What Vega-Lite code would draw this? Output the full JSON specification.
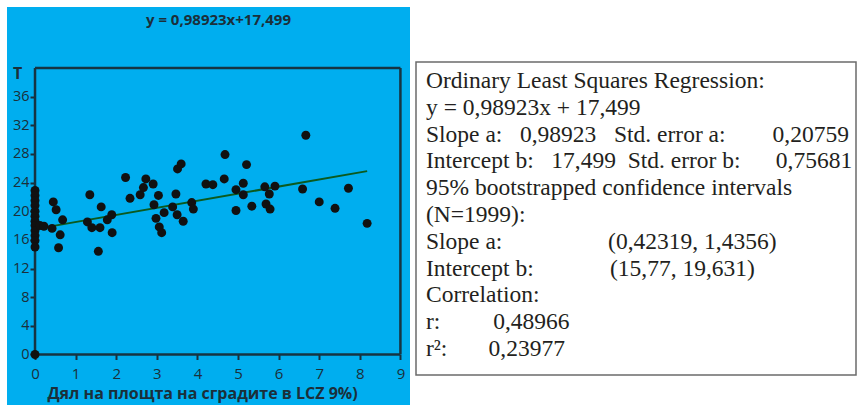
{
  "$schema": "https://vega.github.io/schema/vega-lite/v6.json",
  "background": "white",
  "padding": {"left": 7, "top": 7, "right": 0, "bottom": 0},
  "spacing": 5,
  "datasets": {
    "points": [
      {"x": 0, "T": 0},
      {"x": 0, "T": 22.9}, {"x": 0, "T": 22.2}, {"x": 0, "T": 21.5}, {"x": 0, "T": 20.8}, {"x": 0, "T": 20.0}, {"x": 0, "T": 19.3},
      {"x": 0, "T": 18.6}, {"x": 0, "T": 18.0}, {"x": 0, "T": 17.3}, {"x": 0, "T": 16.6}, {"x": 0, "T": 15.9}, {"x": 0, "T": 15.0},
      {"x": 0.12, "T": 18.0}, {"x": 0.22, "T": 17.9}, {"x": 0.42, "T": 17.6}, {"x": 0.45, "T": 21.3}, {"x": 0.52, "T": 20.2},
      {"x": 0.62, "T": 16.7}, {"x": 0.58, "T": 14.9}, {"x": 0.68, "T": 18.8},
      {"x": 1.29, "T": 18.5}, {"x": 1.35, "T": 22.3}, {"x": 1.40, "T": 17.7}, {"x": 1.60, "T": 17.7}, {"x": 1.56, "T": 14.4},
      {"x": 1.63, "T": 20.6}, {"x": 1.78, "T": 18.8}, {"x": 1.89, "T": 19.5}, {"x": 1.90, "T": 17.0},
      {"x": 2.23, "T": 24.7}, {"x": 2.34, "T": 21.8}, {"x": 2.59, "T": 22.3}, {"x": 2.67, "T": 23.3}, {"x": 2.73, "T": 24.5},
      {"x": 2.91, "T": 23.8}, {"x": 2.93, "T": 20.9}, {"x": 2.98, "T": 19.0}, {"x": 3.04, "T": 22.2}, {"x": 3.06, "T": 17.8},
      {"x": 3.12, "T": 17.0}, {"x": 3.18, "T": 19.8},
      {"x": 3.39, "T": 20.6}, {"x": 3.47, "T": 22.4}, {"x": 3.50, "T": 19.5}, {"x": 3.51, "T": 25.9}, {"x": 3.60, "T": 26.6},
      {"x": 3.65, "T": 18.6}, {"x": 3.86, "T": 21.2}, {"x": 3.90, "T": 20.3},
      {"x": 4.21, "T": 23.8}, {"x": 4.38, "T": 23.7}, {"x": 4.66, "T": 24.5}, {"x": 4.68, "T": 27.9}, {"x": 4.95, "T": 23.0},
      {"x": 4.95, "T": 20.1}, {"x": 5.13, "T": 23.9}, {"x": 5.13, "T": 22.3}, {"x": 5.21, "T": 26.5}, {"x": 5.34, "T": 20.7},
      {"x": 5.66, "T": 23.4}, {"x": 5.69, "T": 21.0}, {"x": 5.77, "T": 22.4}, {"x": 5.79, "T": 20.3}, {"x": 5.91, "T": 23.5},
      {"x": 6.59, "T": 23.1}, {"x": 6.67, "T": 30.6}, {"x": 7.00, "T": 21.3}, {"x": 7.39, "T": 20.4}, {"x": 7.72, "T": 23.2},
      {"x": 8.18, "T": 18.3}
    ],
    "fit": [
      {"x": 0, "T": 17.499},
      {"x": 8.18, "T": 25.591}
    ],
    "frame": [
      {"x": 0, "T": 0, "x2": 0, "T2": 40},
      {"x": 0, "T": 0, "x2": 9, "T2": 0},
      {"x": 0, "T": 40, "x2": 9, "T2": 40},
      {"x": 9, "T": 0, "x2": 9, "T2": 40}
    ],
    "stats": [
      {"line": 1, "text": "Ordinary Least Squares Regression:"},
      {"line": 2, "text": "y = 0,98923x + 17,499"},
      {"line": 3, "text": "Slope a:\u00a0\u00a0\u00a00,98923\u00a0\u00a0\u00a0Std. error a:\u00a0\u00a0\u00a0\u00a0\u00a0\u00a0\u00a0\u00a00,20759"},
      {"line": 4, "text": "Intercept b:\u00a0\u00a0\u00a017,499\u00a0\u00a0Std. error b:\u00a0\u00a0\u00a0\u00a0\u00a0\u00a00,75681"},
      {"line": 5, "text": "95% bootstrapped confidence intervals"},
      {"line": 6, "text": "(N=1999):"},
      {"line": 7, "text": "Slope a:\u00a0\u00a0\u00a0\u00a0\u00a0\u00a0\u00a0\u00a0\u00a0\u00a0\u00a0\u00a0\u00a0\u00a0\u00a0\u00a0\u00a0\u00a0(0,42319, 1,4356)"},
      {"line": 8, "text": "Intercept b:\u00a0\u00a0\u00a0\u00a0\u00a0\u00a0\u00a0\u00a0\u00a0\u00a0\u00a0\u00a0\u00a0(15,77, 19,631)"},
      {"line": 9, "text": "Correlation:"},
      {"line": 10, "text": "r:\u00a0\u00a0\u00a0\u00a0\u00a0\u00a0\u00a0\u00a0\u00a00,48966"},
      {"line": 11, "text": "r\u00b2:\u00a0\u00a0\u00a0\u00a0\u00a0\u00a0\u00a00,23977"}
    ]
  },
  "hconcat": [
    {
      "width": 403,
      "height": 398,
      "view": {"fill": "#00aeef", "stroke": null},
      "title": {
        "text": "y = 0,98923x+17,499",
        "offset": -21,
        "dx": 10,
        "fontSize": 15,
        "fontWeight": "bold",
        "font": "Open Sans",
        "color": "#1b2f3a",
        "anchor": "middle"
      },
      "encoding": {
        "x": {
          "field": "x",
          "type": "quantitative",
          "scale": {"domain": [-0.69, 9.236], "nice": false, "zero": false},
          "axis": {
            "values": [0, 1, 2, 3, 4, 5, 6, 7, 8, 9],
            "offset": -50.5,
            "domain": false,
            "grid": false,
            "tickSize": 5,
            "tickWidth": 2,
            "tickColor": "#1b2f3a",
            "labelFont": "Open Sans",
            "labelFontSize": 15,
            "labelColor": "#1b2f3a",
            "labelPadding": 7,
            "title": "Дял на площта на сградите в LCZ 9%)",
            "titleFont": "Open Sans",
            "titleFontSize": 16,
            "titleFontWeight": "bold",
            "titleColor": "#1b2f3a",
            "titlePadding": 4,
            "titleX": 195,
            "titleAlign": "center"
          }
        },
        "y": {
          "field": "T",
          "type": "quantitative",
          "scale": {"domain": [-7.05, 48.5], "nice": false, "zero": false},
          "axis": {
            "values": [0, 4, 8, 12, 16, 20, 24, 28, 32, 36],
            "offset": -28,
            "domain": false,
            "grid": false,
            "tickSize": 5,
            "tickWidth": 2,
            "tickColor": "#1b2f3a",
            "labelFont": "Open Sans",
            "labelFontSize": 14.5,
            "labelColor": "#1b2f3a",
            "labelPadding": 1,
            "title": "T",
            "titleAngle": 0,
            "titleFont": "Open Sans",
            "titleFontSize": 16,
            "titleFontWeight": "bold",
            "titleColor": "#1b2f3a",
            "titleAlign": "center",
            "titleBaseline": "middle",
            "titleX": -18,
            "titleY": 66
          }
        }
      },
      "layer": [
        {
          "data": {"name": "frame"},
          "mark": {"type": "rule", "color": "#163442", "strokeWidth": 2.5},
          "encoding": {"x2": {"field": "x2"}, "y2": {"field": "T2"}}
        },
        {
          "data": {"name": "fit"},
          "mark": {"type": "line", "color": "#0b5a1f", "strokeWidth": 2}
        },
        {
          "data": {"name": "points"},
          "mark": {"type": "circle", "size": 80, "color": "#111111", "opacity": 1}
        }
      ]
    },
    {
      "width": 440,
      "height": 398,
      "view": {"fill": null, "stroke": null},
      "layer": [
        {
          "data": {"values": [{"box": "statistics"}]},
          "mark": {"type": "rect", "fill": "white", "stroke": "#6b6b6b", "strokeWidth": 1.5},
          "encoding": {
            "x": {"datum": 0, "type": "quantitative", "scale": {"domain": [0, 1], "nice": false, "zero": false}, "axis": null},
            "x2": {"datum": 1},
            "y": {"datum": 0.291, "type": "quantitative", "scale": {"domain": [-1.761, 13.09], "reverse": true, "nice": false, "zero": false}, "axis": null},
            "y2": {"datum": 11.97}
          }
        },
        {
          "data": {"name": "stats"},
          "mark": {
            "type": "text",
            "align": "left",
            "baseline": "middle",
            "dx": 10,
            "font": "Liberation Serif",
            "fontSize": 23.5,
            "color": "#231f20"
          },
          "encoding": {
            "x": {"datum": 0, "type": "quantitative", "scale": {"domain": [0, 1], "nice": false, "zero": false}, "axis": null},
            "y": {"field": "line", "type": "quantitative", "scale": {"domain": [-1.761, 13.09], "reverse": true, "nice": false, "zero": false}, "axis": null},
            "text": {"field": "text"}
          }
        }
      ]
    }
  ]
}
